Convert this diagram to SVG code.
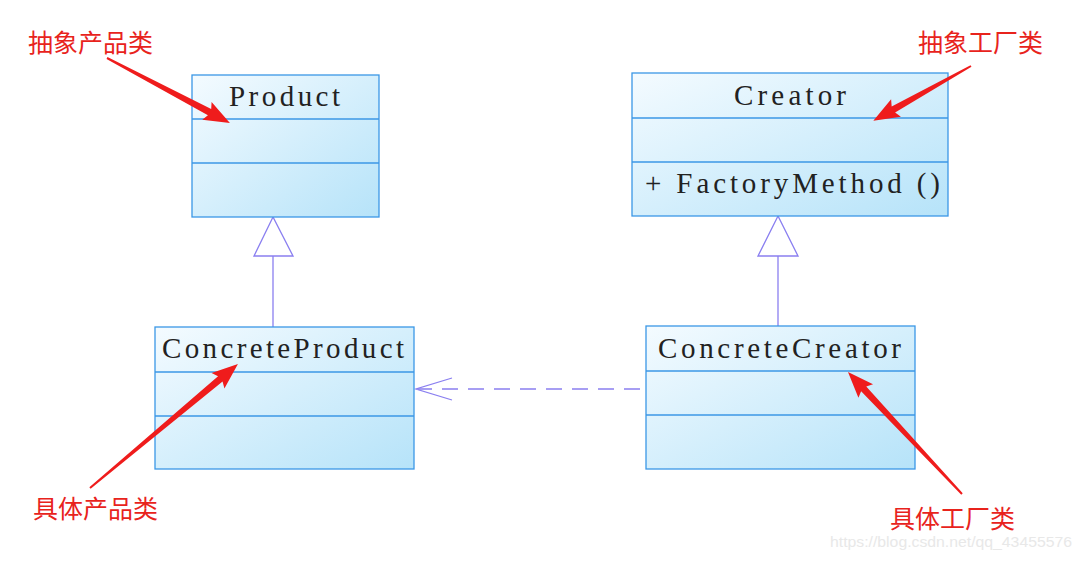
<svg xmlns="http://www.w3.org/2000/svg" width="1089" height="575" viewBox="0 0 1089 575">
<defs>
<linearGradient id="g" x1="0" y1="0" x2="1" y2="1">
<stop offset="0" stop-color="#f4fbff"/>
<stop offset="1" stop-color="#b6e3f9"/>
</linearGradient>
<style>
.box{fill:url(#g);stroke:#3b97e6;stroke-width:1.3}
.div{stroke:#3b97e6;stroke-width:1.3}
.t{font-family:"Liberation Serif",serif;font-size:29px;fill:#222}
.lbl{font-family:"Noto Sans CJK SC",sans-serif;font-size:25px;fill:#e8231c}
.conn{stroke:#8a7ff0;stroke-width:1.3;fill:none}
.red{fill:#ef1c1c}
.wm{font-family:"Liberation Sans",sans-serif;font-size:15px;fill:#e8e8e8}
</style>
</defs>
<rect width="1089" height="575" fill="#fff"/>
<g id="connectors">
<line class="conn" x1="273" y1="256" x2="273" y2="327"/>
<polygon class="conn" fill="#fff" points="273,217 254,256 293,256"/>
<line class="conn" x1="778" y1="256" x2="778" y2="326"/>
<polygon class="conn" fill="#fff" points="778,216 758,256 798,256"/>
<line class="conn" x1="640" y1="389" x2="418" y2="389" stroke-dasharray="16,10"/>
<polyline class="conn" points="452,378 416,389 452,400"/>
</g>
<g id="product">
<rect class="box" x="192" y="75" width="187" height="142"/>
<line class="div" x1="192" y1="119" x2="379" y2="119"/>
<line class="div" x1="192" y1="163" x2="379" y2="163"/>
<text class="t" x="229" y="106" textLength="111" lengthAdjust="spacing">Product</text>
</g>
<g id="creator">
<rect class="box" x="632" y="73" width="316" height="143"/>
<line class="div" x1="632" y1="118" x2="948" y2="118"/>
<line class="div" x1="632" y1="162" x2="948" y2="162"/>
<text class="t" x="734" y="105" textLength="112" lengthAdjust="spacing">Creator</text>
<text class="t" x="645" y="193" textLength="295" lengthAdjust="spacing">+ FactoryMethod ()</text>
</g>
<g id="concreteproduct">
<rect class="box" x="155" y="327" width="259" height="142"/>
<line class="div" x1="155" y1="372" x2="414" y2="372"/>
<line class="div" x1="155" y1="416" x2="414" y2="416"/>
<text class="t" x="162" y="358" textLength="242" lengthAdjust="spacing">ConcreteProduct</text>
</g>
<g id="concretecreator">
<rect class="box" x="646" y="326" width="269" height="143"/>
<line class="div" x1="646" y1="371" x2="915" y2="371"/>
<line class="div" x1="646" y1="415" x2="915" y2="415"/>
<text class="t" x="658" y="358" textLength="243" lengthAdjust="spacing">ConcreteCreator</text>
</g>
<g id="annotations">
<text class="lbl" x="28" y="52">抽象产品类</text>
<polygon class="red" transform="translate(107,58) rotate(27.85)" points="0,-1 116,-3.5 113,-10 139,0 113,10 116,3.5 0,1"/>
<text class="lbl" x="918" y="52">抽象工厂类</text>
<polygon class="red" transform="translate(971,66) rotate(150.7)" points="0,-1 89,-3.5 86,-10 112,0 86,10 89,3.5 0,1"/>
<text class="lbl" x="33" y="518">具体产品类</text>
<polygon class="red" transform="translate(90,488) rotate(-39.96)" points="0,-1 170,-3.5 167,-10 193,0 167,10 170,3.5 0,1"/>
<text class="lbl" x="890" y="528">具体工厂类</text>
<polygon class="red" transform="translate(962,494) rotate(-133.06)" points="0,-1 144,-3.5 141,-10 167,0 141,10 144,3.5 0,1"/>
<text class="wm" x="830" y="547" textLength="242" lengthAdjust="spacingAndGlyphs">https://blog.csdn.net/qq_43455576</text>
</g>
</svg>
